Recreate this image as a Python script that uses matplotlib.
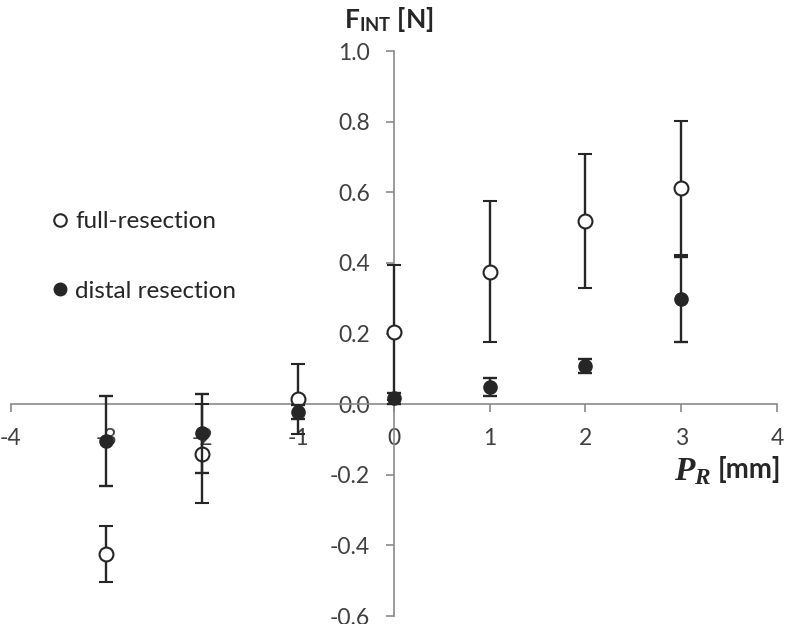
import matplotlib.pyplot as plt
from matplotlib.lines import Line2D

plt.rcParams['font.family'] = ['Lato', 'DejaVu Sans']
plt.rcParams['mathtext.fontset'] = 'custom'
plt.rcParams['mathtext.it'] = 'Liberation Serif:italic:bold'
plt.rcParams['mathtext.rm'] = 'Lato:bold'

# Data
positions = [-3, -2, -1, 0, 1, 2, 3]
full_mean = [-0.425, -0.14, 0.015, 0.203, 0.375, 0.518, 0.611]
full_err = [0.08, 0.14, 0.10, 0.19, 0.20, 0.19, 0.19]
distal_mean = [-0.105, -0.083, -0.022, 0.016, 0.048, 0.108, 0.297]
distal_err = [0.128, 0.113, 0.02, 0.015, 0.025, 0.02, 0.12]

x_ticks = [-4, -3, -2, -1, 0, 1, 2, 3, 4]
y_ticks = [-0.6, -0.4, -0.2, 0.0, 0.2, 0.4, 0.6, 0.8, 1.0]

dark = '#262626'
axis_grey = '#8a8a8a'
label_grey = '#404040'

fig = plt.figure(figsize=(7.86, 6.24), dpi=100)
ax = fig.add_axes([0.0134, 0.0128, 0.9752, 0.9054])

ax.errorbar(positions, full_mean, yerr=full_err, fmt='o', color=dark,
            mfc='white', mec=dark, ms=10, mew=1.5, ecolor=dark,
            elinewidth=1.7, capsize=5, capthick=1.7, zorder=3)
ax.errorbar(positions, distal_mean, yerr=distal_err, fmt='o', color=dark,
            mfc=dark, mec=dark, ms=9.5, ecolor=dark,
            elinewidth=1.7, capsize=5, capthick=1.7, zorder=4)

ax.set_xlim(-4, 4)
ax.set_ylim(-0.6, 1.0)
ax.set_xticks(x_ticks)
ax.set_yticks(y_ticks)
ax.set_xticklabels([str(v) for v in x_ticks])
ax.set_yticklabels([f'{v:.1f}' for v in y_ticks])

# Axes crossing at the origin
ax.spines['left'].set_position(('data', 0))
ax.spines['bottom'].set_position(('data', 0))
ax.spines['top'].set_visible(False)
ax.spines['right'].set_visible(False)
for side in ['left', 'bottom']:
    ax.spines[side].set_color(axis_grey)
    ax.spines[side].set_linewidth(1.2)

ax.tick_params(axis='both', direction='out', length=6, width=1.2,
               color=axis_grey, labelcolor=label_grey, labelsize=16.5)
ax.tick_params(axis='y', pad=11)
ax.tick_params(axis='x', pad=11)
ax.patch.set_alpha(0)

fig.text(0.495, 0.968, r'F$_{\mathrm{INT}}$ [N]', fontsize=19, fontweight='bold',
         color=dark, ha='center', va='center')
mm_label = fig.text(0.994, 0.247, '[mm]', fontsize=20, fontweight='bold',
                    color=dark, ha='right', va='center')
ax.annotate(r'$P_R$', xy=(0, 0.45), xycoords=mm_label, xytext=(-5, 0),
            textcoords='offset points', ha='right', va='center',
            fontsize=24, color=dark)

handles = [
    Line2D([], [], ls='none', marker='o', ms=9, mfc='white', mec=dark, mew=1.5),
    Line2D([], [], ls='none', marker='o', ms=9, mfc=dark, mec=dark),
]
ax.legend(handles, ['full-resection', 'distal resection'], loc='upper left',
          bbox_to_anchor=(0.026, 0.755), frameon=False, fontsize=17.5,
          labelspacing=2.0, handlelength=0.6, handletextpad=0.35, labelcolor=dark)

fig.savefig('out.png', dpi=100)
